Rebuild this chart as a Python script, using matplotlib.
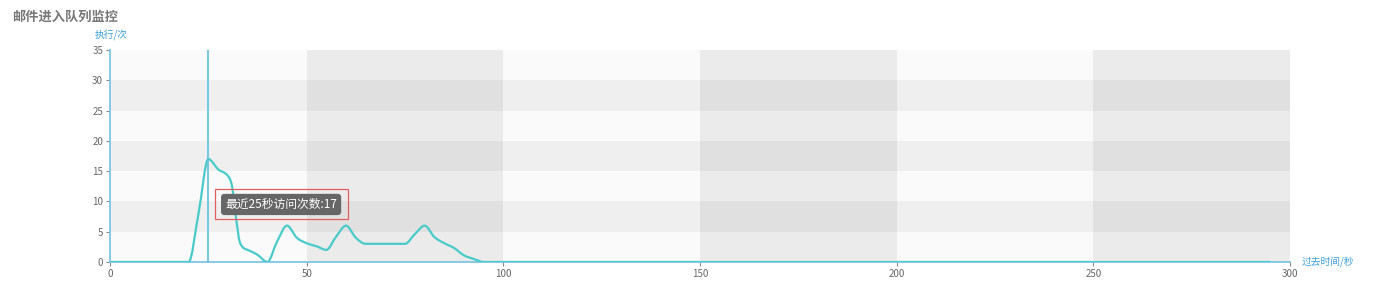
import matplotlib
matplotlib.use('Agg')
import matplotlib.pyplot as plt
import numpy as np
from matplotlib.path import Path
from matplotlib.patches import PathPatch, Rectangle

plt.rcParams['font.family'] = ['Noto Sans CJK SC', 'DejaVu Sans']

# data: seconds ago -> executions
seconds = [0, 5, 10, 15, 20, 22.5, 25, 27.5, 30, 31, 32, 33, 34, 35, 37.5, 40, 42.5, 45, 47.5,
           50, 52.5, 55, 57.5, 60, 62.5, 65, 70, 75, 77.5, 80, 82.5, 85, 87.5, 90, 92.5] + list(range(95, 300, 5))
counts = [0, 0, 0, 0, 0, 8, 17, 15.3, 14.2, 12.6, 7.5, 3.3, 2.3, 2, 1.2, 0, 3.4, 6, 4,
          3.1, 2.6, 2, 4.2, 6, 4, 3, 3, 3, 4.6, 6, 4.1, 3.1, 2.3, 1.1, 0.5] + [0] * 41
x_ticks = [0, 50, 100, 150, 200, 250, 300]
y_ticks = [0, 5, 10, 15, 20, 25, 30, 35]
marker_x = 25
title = '邮件进入队列监控'
y_label = '执行/次'
x_label = '过去时间/秒'
tip_text = '最近25秒访问次数:17'


def monotone_path(x, y):
    # monotone cubic (like d3.curveMonotoneX) as bezier segments
    x = np.asarray(x, float)
    y = np.asarray(y, float)
    n = len(x)
    h = np.diff(x)
    s = np.diff(y) / h
    t = np.zeros(n)
    t[0] = s[0]
    t[-1] = s[-1]
    for i in range(1, n - 1):
        if s[i - 1] * s[i] <= 0:
            t[i] = 0
        else:
            p = (s[i - 1] * h[i] + s[i] * h[i - 1]) / (h[i - 1] + h[i])
            t[i] = np.sign(s[i - 1]) * min(abs(s[i - 1]), abs(s[i]), 0.5 * abs(p)) * 2
    verts = [(x[0], y[0])]
    codes = [Path.MOVETO]
    for i in range(n - 1):
        dx = h[i] / 3
        verts += [(x[i] + dx, y[i] + dx * t[i]), (x[i + 1] - dx, y[i + 1] - dx * t[i + 1]), (x[i + 1], y[i + 1])]
        codes += [Path.CURVE4] * 3
    return Path(verts, codes)


fig = plt.figure(figsize=(13.86, 2.97), dpi=100)
ax = fig.add_axes([110 / 1386, 35 / 297, 1180 / 1386, 212 / 297])
ax.set_xlim(0, 300)
ax.set_ylim(0, 35)

# background stripes
for i in range(6):
    ax.axvspan(i * 50, (i + 1) * 50, color='#fafafa' if i % 2 == 0 else '#ebebeb', lw=0, zorder=0)
for j in range(1, 7, 2):
    ax.axhspan(j * 5, (j + 1) * 5, color='black', alpha=0.045, lw=0, zorder=0.5)

line_col = '#4bcaca'
ax.add_patch(PathPatch(monotone_path(seconds, counts), facecolor='none', edgecolor=line_col, lw=1.6, zorder=3))

ax.axvline(marker_x, color='#5fbfdc', lw=1.2, zorder=4)

# tooltip
ax.add_patch(Rectangle((26.6, 7.1), 33.8, 5.0, fill=False, edgecolor='#e06060', lw=0.9, zorder=5))
ax.text(43.5, 9.5, tip_text, ha='center', va='center', color='white', fontsize=8.5, zorder=6,
        bbox=dict(boxstyle='round,pad=0.35,rounding_size=0.3', fc='#666666', ec='none'))

axis_col = '#7ec7e2'
for side in ['top', 'right']:
    ax.spines[side].set_visible(False)
ax.spines['left'].set_color(axis_col)
ax.spines['bottom'].set_color(axis_col)
ax.spines['left'].set_linewidth(1.3)
ax.spines['bottom'].set_linewidth(1.3)
ax.spines['left'].set_zorder(7)
ax.spines['bottom'].set_zorder(2)

ax.set_xticks(x_ticks)
ax.set_yticks(y_ticks)
ax.tick_params(axis='both', colors='#888888', labelcolor='#666666', labelsize=7, length=3, width=0.8, pad=2)

fig.text(12 / 1386, 1 - 17 / 297, title, ha='left', va='center', color='#777777', fontsize=9.5, fontweight='bold')
fig.text(95 / 1386, 1 - 35 / 297, y_label, ha='left', va='center', color='#3a9fd6', fontsize=7)
fig.text(1302 / 1386, 1 - 262 / 297, x_label, ha='left', va='center', color='#3a9fd6', fontsize=7)

plt.savefig('out.png', dpi=100)
